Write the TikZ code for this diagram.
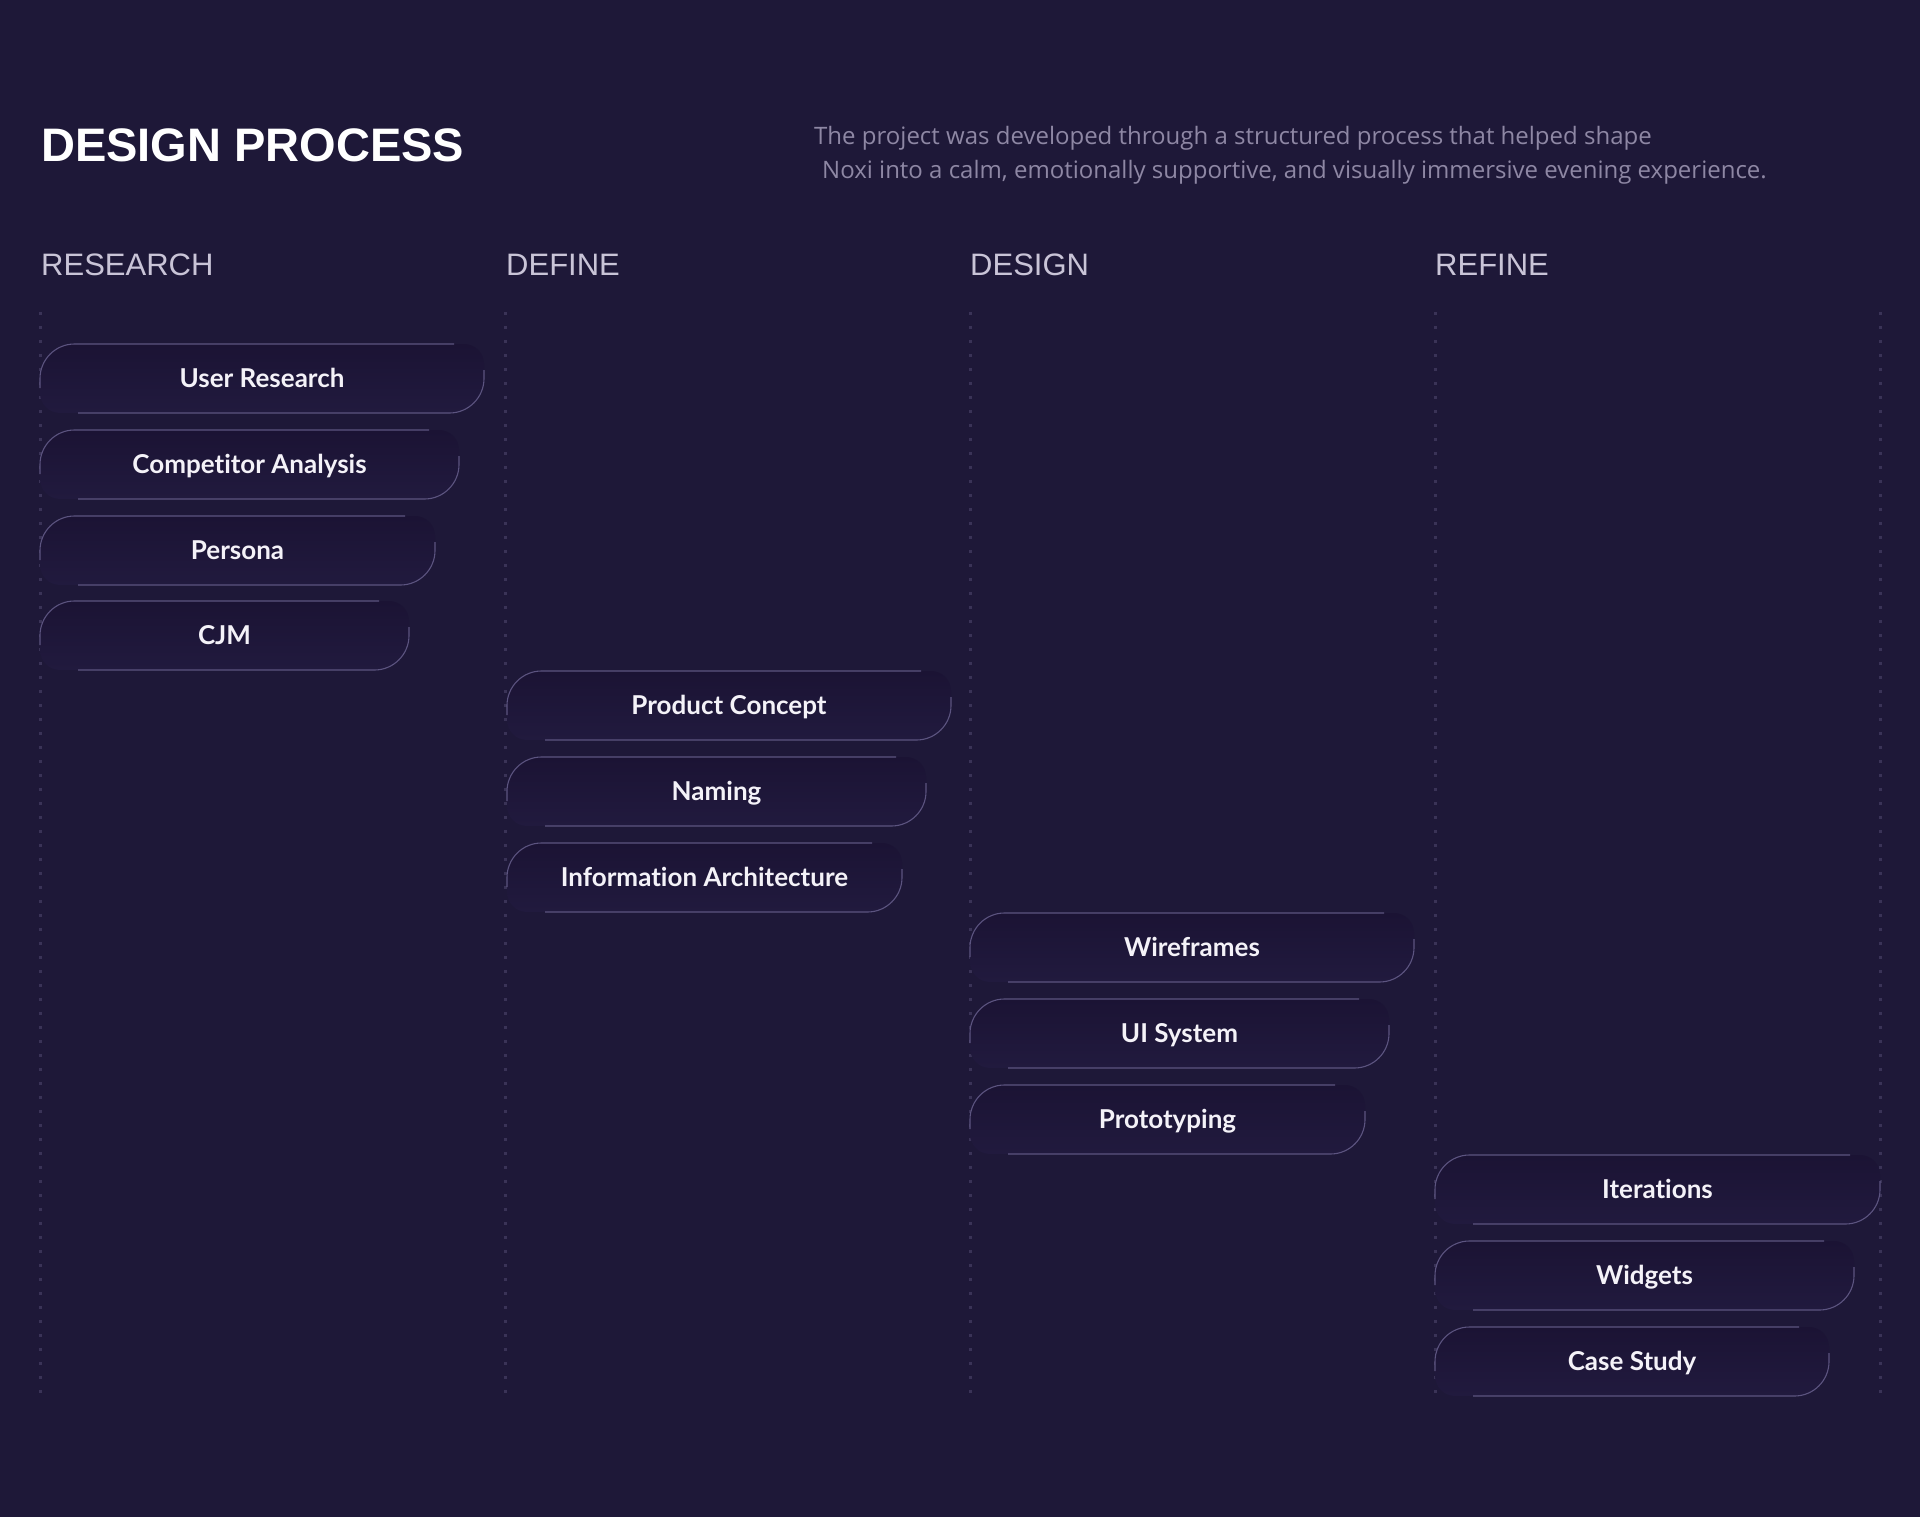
\documentclass[tikz,border=0pt]{standalone}
\usepackage{fontspec}
\setmainfont{Liberation Sans}
\newfontfamily\pillfont{Lato}[Ligatures={NoCommon}]
\newfontfamily\descfont{Open Sans}[Ligatures={NoCommon}]
\definecolor{bgc}{HTML}{1E1838}
\definecolor{pilltop}{HTML}{1B1334}
\definecolor{pillbot}{HTML}{211A3E}
\definecolor{pilledge}{HTML}{5C5480}
\definecolor{dotc}{HTML}{3A3357}
\definecolor{headc}{HTML}{C9C4D7}
\definecolor{descc}{HTML}{8E87A4}
\definecolor{labelc}{HTML}{F4F2F8}
\tikzset{
  pillline/.style={draw=pilledge, line width=1.1pt},
  pilltext/.style={text=labelc, font=\pillfont\bfseries\fontsize{26}{30}\selectfont, anchor=base, inner sep=0pt},
  colhead/.style={text=headc, font=\fontsize{31}{36}\selectfont, anchor=base west, inner sep=0pt},
  desctext/.style={text=descc, font=\descfont\fontsize{24}{28}\selectfont, anchor=base west, inner sep=0pt},
  dotline/.style={draw=dotc, line width=3pt, dash pattern=on 3pt off 11pt},
}
% name, x, y(top), width, label
\newcommand\pillbox[5]{%
  \shade[top color=pilltop, bottom color=pillbot]
    (#2+20,#3+69) .. controls (#2+9,#3+69) and (#2,#3+60) .. (#2,#3+49)
    -- (#2,#3+34.5) .. controls (#2,#3+15.5) and (#2+15.5,#3) .. (#2+34.5,#3)
    -- (#2+#4-20,#3) .. controls (#2+#4-9,#3) and (#2+#4,#3+9) .. (#2+#4,#3+20)
    -- (#2+#4,#3+34.5) .. controls (#2+#4,#3+53.5) and (#2+#4-15.5,#3+69) .. (#2+#4-34.5,#3+69) -- cycle;
  \draw[pillline] (#2,#3+44) -- (#2,#3+34.5) .. controls (#2,#3+15.5) and (#2+15.5,#3) .. (#2+34.5,#3) -- (#2+#4-30,#3);
  \draw[pillline] (#2+#4,#3+26) -- (#2+#4,#3+34.5) .. controls (#2+#4,#3+53.5) and (#2+#4-15.5,#3+69) .. (#2+#4-34.5,#3+69) -- (#2+38,#3+69);
  \node[pilltext] (#1) at (#2+#4/2,#3+43.5) {#5};
}
\begin{document}
\begin{tikzpicture}[x=1pt,y=-1pt]
\fill[bgc] (0,0) rectangle (1920,1517);
\useasboundingbox (0,0) rectangle (1920,1517);

% title and description
\node[text=white, font=\bfseries\fontsize{47}{52}\selectfont, anchor=base west, inner sep=0pt] (title) at (41,162) {DESIGN PROCESS};
\node[desctext] (desc1) at (814,145) {The project was developed through a structured process that helped shape};
\node[desctext] (desc2) at (822,179) {Noxi into a calm, emotionally supportive, and visually immersive evening experience.};

% column headers
\node[colhead] (hresearch) at (41,276) {RESEARCH};
\node[colhead] (hdefine) at (506,276) {DEFINE};
\node[colhead] (hdesign) at (970,276) {DESIGN};
\node[colhead] (hrefine) at (1435,276) {REFINE};

% dotted guides
\foreach \gx in {40,505,970,1435,1880}
  \draw[dotline] (\gx,312) -- (\gx,1398);

% research
\pillbox{p1}{40}{344}{444}{User Research}
\pillbox{p2}{40}{430}{419}{Competitor Analysis}
\pillbox{p3}{40}{516}{395}{Persona}
\pillbox{p4}{40}{601}{369}{CJM}
% define
\pillbox{p5}{507}{671}{444}{Product Concept}
\pillbox{p6}{507}{757}{419}{Naming}
\pillbox{p7}{507}{843}{395}{Information Architecture}
% design
\pillbox{p8}{970}{913}{444}{Wireframes}
\pillbox{p9}{970}{999}{419}{UI System}
\pillbox{p10}{970}{1085}{395}{Prototyping}
% refine
\pillbox{p11}{1435}{1155}{445}{Iterations}
\pillbox{p12}{1435}{1241}{419}{Widgets}
\pillbox{p13}{1435}{1327}{394}{Case Study}
\end{tikzpicture}
\end{document}
